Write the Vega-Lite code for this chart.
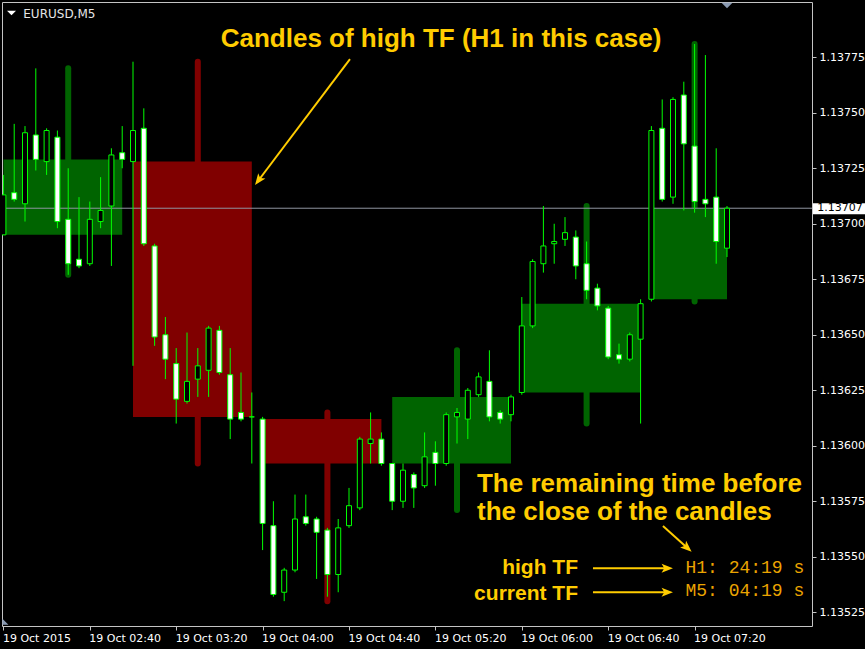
{
  "$schema": "https://vega.github.io/schema/vega-lite/v6.json",
  "width": 810,
  "height": 624,
  "autosize": {"type": "none"},
  "padding": {"left": 2, "top": 2, "right": 53, "bottom": 23},
  "background": "#000000",
  "config": {
    "view": {"stroke": "#c4c4c4", "strokeWidth": 1, "fill": "#000000"},
    "scale": {"continuousPadding": 0},
    "axis": {"grid": false, "domain": false, "tickColor": "#c4c4c4", "tickSize": 4, "labelColor": "#ffffff", "labelFont": "DejaVu Sans", "labelFontSize": 11, "labelOverlap": false, "labelFlush": false, "labelBound": false}
  },
  "datasets": {
    "m5": [
      {"bar": 0, "time": "02:00", "open": 1.13695, "high": 1.13722, "low": 1.13695, "close": 1.13713},
      {"bar": 1, "time": "02:05", "open": 1.13714, "high": 1.13745, "low": 1.13710, "close": 1.13711},
      {"bar": 2, "time": "02:10", "open": 1.13709, "high": 1.13744, "low": 1.13701, "close": 1.13741},
      {"bar": 3, "time": "02:15", "open": 1.13740, "high": 1.13770, "low": 1.13724, "close": 1.13729},
      {"bar": 4, "time": "02:20", "open": 1.13728, "high": 1.13743, "low": 1.13722, "close": 1.13742},
      {"bar": 5, "time": "02:25", "open": 1.13739, "high": 1.13742, "low": 1.13698, "close": 1.13701},
      {"bar": 6, "time": "02:30", "open": 1.13702, "high": 1.13725, "low": 1.13677, "close": 1.13682},
      {"bar": 7, "time": "02:35", "open": 1.13684, "high": 1.13712, "low": 1.13680, "close": 1.13681},
      {"bar": 8, "time": "02:40", "open": 1.13682, "high": 1.13710, "low": 1.13681, "close": 1.13702},
      {"bar": 9, "time": "02:45", "open": 1.13701, "high": 1.13721, "low": 1.13698, "close": 1.13706},
      {"bar": 10, "time": "02:50", "open": 1.13708, "high": 1.13734, "low": 1.13681, "close": 1.13731},
      {"bar": 11, "time": "02:55", "open": 1.13732, "high": 1.13744, "low": 1.13725, "close": 1.13729},
      {"bar": 12, "time": "03:00", "open": 1.13728, "high": 1.13773, "low": 1.13636, "close": 1.13742},
      {"bar": 13, "time": "03:05", "open": 1.13743, "high": 1.13752, "low": 1.13690, "close": 1.13691},
      {"bar": 14, "time": "03:10", "open": 1.13690, "high": 1.13691, "low": 1.13645, "close": 1.13649},
      {"bar": 15, "time": "03:15", "open": 1.13650, "high": 1.13658, "low": 1.13630, "close": 1.13639},
      {"bar": 16, "time": "03:20", "open": 1.13637, "high": 1.13644, "low": 1.13610, "close": 1.13621},
      {"bar": 17, "time": "03:25", "open": 1.13620, "high": 1.13651, "low": 1.13619, "close": 1.13629},
      {"bar": 18, "time": "03:30", "open": 1.13630, "high": 1.13644, "low": 1.13622, "close": 1.13636},
      {"bar": 19, "time": "03:35", "open": 1.13634, "high": 1.13654, "low": 1.13622, "close": 1.13653},
      {"bar": 20, "time": "03:40", "open": 1.13652, "high": 1.13654, "low": 1.13632, "close": 1.13633},
      {"bar": 21, "time": "03:45", "open": 1.13632, "high": 1.13644, "low": 1.13603, "close": 1.13612},
      {"bar": 22, "time": "03:50", "open": 1.13615, "high": 1.13633, "low": 1.13611, "close": 1.13612},
      {"bar": 23, "time": "03:55", "open": 1.13613, "high": 1.13624, "low": 1.13592, "close": 1.13613},
      {"bar": 24, "time": "04:00", "open": 1.13612, "high": 1.13613, "low": 1.13553, "close": 1.13565},
      {"bar": 25, "time": "04:05", "open": 1.13564, "high": 1.13575, "low": 1.13532, "close": 1.13533},
      {"bar": 26, "time": "04:10", "open": 1.13534, "high": 1.13545, "low": 1.13530, "close": 1.13544},
      {"bar": 27, "time": "04:15", "open": 1.13544, "high": 1.13578, "low": 1.13543, "close": 1.13567},
      {"bar": 28, "time": "04:20", "open": 1.13568, "high": 1.13578, "low": 1.13564, "close": 1.13565},
      {"bar": 29, "time": "04:25", "open": 1.13567, "high": 1.13568, "low": 1.13540, "close": 1.13561},
      {"bar": 30, "time": "04:30", "open": 1.13562, "high": 1.13563, "low": 1.13532, "close": 1.13542},
      {"bar": 31, "time": "04:35", "open": 1.13542, "high": 1.13567, "low": 1.13534, "close": 1.13563},
      {"bar": 32, "time": "04:40", "open": 1.13564, "high": 1.13581, "low": 1.13563, "close": 1.13573},
      {"bar": 33, "time": "04:45", "open": 1.13572, "high": 1.13604, "low": 1.13571, "close": 1.13603},
      {"bar": 34, "time": "04:50", "open": 1.13601, "high": 1.13615, "low": 1.13592, "close": 1.13603},
      {"bar": 35, "time": "04:55", "open": 1.13603, "high": 1.13606, "low": 1.13591, "close": 1.13592},
      {"bar": 36, "time": "05:00", "open": 1.13592, "high": 1.13592, "low": 1.13571, "close": 1.13575},
      {"bar": 37, "time": "05:05", "open": 1.13575, "high": 1.13592, "low": 1.13572, "close": 1.13589},
      {"bar": 38, "time": "05:10", "open": 1.13587, "high": 1.13588, "low": 1.13572, "close": 1.13581},
      {"bar": 39, "time": "05:15", "open": 1.13582, "high": 1.13606, "low": 1.13581, "close": 1.13595},
      {"bar": 40, "time": "05:20", "open": 1.13597, "high": 1.13602, "low": 1.13582, "close": 1.13592},
      {"bar": 41, "time": "05:25", "open": 1.13592, "high": 1.13615, "low": 1.13591, "close": 1.13614},
      {"bar": 42, "time": "05:30", "open": 1.13613, "high": 1.13617, "low": 1.13601, "close": 1.13615},
      {"bar": 43, "time": "05:35", "open": 1.13612, "high": 1.13626, "low": 1.13603, "close": 1.13625},
      {"bar": 44, "time": "05:40", "open": 1.13623, "high": 1.13633, "low": 1.13622, "close": 1.13631},
      {"bar": 45, "time": "05:45", "open": 1.13629, "high": 1.13643, "low": 1.13611, "close": 1.13613},
      {"bar": 46, "time": "05:50", "open": 1.13615, "high": 1.13616, "low": 1.13610, "close": 1.13612},
      {"bar": 47, "time": "05:55", "open": 1.13614, "high": 1.13623, "low": 1.13611, "close": 1.13622},
      {"bar": 48, "time": "06:00", "open": 1.13624, "high": 1.13667, "low": 1.13623, "close": 1.13654},
      {"bar": 49, "time": "06:05", "open": 1.13654, "high": 1.13684, "low": 1.13653, "close": 1.13683},
      {"bar": 50, "time": "06:10", "open": 1.13682, "high": 1.13708, "low": 1.13678, "close": 1.13690},
      {"bar": 51, "time": "06:15", "open": 1.13691, "high": 1.13700, "low": 1.13682, "close": 1.13692},
      {"bar": 52, "time": "06:20", "open": 1.13693, "high": 1.13703, "low": 1.13690, "close": 1.13696},
      {"bar": 53, "time": "06:25", "open": 1.13694, "high": 1.13697, "low": 1.13675, "close": 1.13681},
      {"bar": 54, "time": "06:30", "open": 1.13682, "high": 1.13692, "low": 1.13666, "close": 1.13670},
      {"bar": 55, "time": "06:35", "open": 1.13671, "high": 1.13673, "low": 1.13661, "close": 1.13663},
      {"bar": 56, "time": "06:40", "open": 1.13662, "high": 1.13663, "low": 1.13639, "close": 1.13640},
      {"bar": 57, "time": "06:45", "open": 1.13641, "high": 1.13646, "low": 1.13637, "close": 1.13639},
      {"bar": 58, "time": "06:50", "open": 1.13639, "high": 1.13651, "low": 1.13638, "close": 1.13650},
      {"bar": 59, "time": "06:55", "open": 1.13648, "high": 1.13666, "low": 1.13610, "close": 1.13664},
      {"bar": 60, "time": "07:00", "open": 1.13666, "high": 1.13744, "low": 1.13665, "close": 1.13742},
      {"bar": 61, "time": "07:05", "open": 1.13743, "high": 1.13756, "low": 1.13710, "close": 1.13711},
      {"bar": 62, "time": "07:10", "open": 1.13712, "high": 1.13757, "low": 1.13709, "close": 1.13756},
      {"bar": 63, "time": "07:15", "open": 1.13758, "high": 1.13764, "low": 1.13706, "close": 1.13736},
      {"bar": 64, "time": "07:20", "open": 1.13735, "high": 1.13781, "low": 1.13705, "close": 1.13710},
      {"bar": 65, "time": "07:25", "open": 1.13711, "high": 1.13776, "low": 1.13703, "close": 1.13709},
      {"bar": 66, "time": "07:30", "open": 1.13712, "high": 1.13734, "low": 1.13682, "close": 1.13692},
      {"bar": 67, "time": "07:35", "open": 1.13689, "high": 1.13708, "low": 1.13685, "close": 1.13707}
    ],
    "h1": [
      {"hour": "02:00", "first": 0, "last": 11, "mid": 6, "open": 1.13695, "high": 1.13770, "low": 1.13677, "close": 1.13729},
      {"hour": "03:00", "first": 12, "last": 23, "mid": 18, "open": 1.13728, "high": 1.13773, "low": 1.13592, "close": 1.13613},
      {"hour": "04:00", "first": 24, "last": 35, "mid": 30, "open": 1.13612, "high": 1.13615, "low": 1.13530, "close": 1.13592},
      {"hour": "05:00", "first": 36, "last": 47, "mid": 42, "open": 1.13592, "high": 1.13643, "low": 1.13571, "close": 1.13622},
      {"hour": "06:00", "first": 48, "last": 59, "mid": 54, "open": 1.13624, "high": 1.13708, "low": 1.13610, "close": 1.13664},
      {"hour": "07:00", "first": 60, "last": 67, "mid": 64, "open": 1.13666, "high": 1.13781, "low": 1.13665, "close": 1.13707}
    ],
    "quote": [
      {"symbol": "EURUSD,M5", "bid": 1.13707, "label": "1.13707"}
    ],
    "headline": [
      {"text": "Candles of high TF (H1 in this case)", "bar": 40.52, "price": 1.137796}
    ],
    "callout": [
      {"text": "The remaining time before", "bar": 43.85, "price": 1.135793},
      {"text": "the close of the candles", "bar": 43.85, "price": 1.135665}
    ],
    "legend": [
      {"text": "high TF", "bar": 53.2, "price": 1.135422},
      {"text": "current TF", "bar": 53.2, "price": 1.135305}
    ],
    "timers": [
      {"text": "H1: 24:19 s", "bar": 63.15, "price": 1.135425},
      {"text": "M5: 04:19 s", "bar": 63.15, "price": 1.135323}
    ],
    "arrows": [
      {"name": "to H1 candles", "bar": 32.09, "price": 1.137742, "bar2": 23.63, "price2": 1.137196, "heading": 216.6},
      {"name": "to timers", "bar": 61.07, "price": 1.135638, "bar2": 63.31, "price2": 1.135541, "heading": 131.8},
      {"name": "high TF", "bar": 54.59, "price": 1.135448, "bar2": 61.44, "price2": 1.135448, "heading": 90},
      {"name": "current TF", "bar": 54.59, "price": 1.13534, "bar2": 61.44, "price2": 1.13534, "heading": 90}
    ],
    "chartTitle": [
      {"text": "EURUSD,M5", "bar": 1.84, "price": 1.137927}
    ],
    "menuMark": [
      {"bar": 0.75, "price": 1.137949}
    ],
    "shiftMark": [
      {"bar": 67, "price": 1.137983}
    ],
    "cornerMark": [
      {"bar": 0.19, "price": 1.135207}
    ]
  },
  "layer": [
    {
      "data": {"name": "h1"},
      "mark": {"type": "rule", "strokeWidth": 6, "strokeCap": "round", "clip": true},
      "encoding": {
        "x": {"field": "mid", "type": "quantitative", "title": null,
          "scale": {"domain": [-0.13, 74.87], "nice": false, "zero": false, "padding": 0},
          "axis": {"values": [0, 8, 16, 24, 32, 40, 48, 56, 64],
            "labelExpr": "['19 Oct 2015','19 Oct 02:40','19 Oct 03:20','19 Oct 04:00','19 Oct 04:40','19 Oct 05:20','19 Oct 06:00','19 Oct 06:40','19 Oct 07:20'][round(datum.value / 8)]",
            "labelAlign": "left", "labelOffset": -1, "labelPadding": 2}},
        "y": {"field": "low", "type": "quantitative", "title": null,
          "scale": {"domain": [1.135188, 1.137999], "nice": false, "zero": false, "padding": 0},
          "axis": {"orient": "right", "values": [1.13525, 1.1355, 1.13575, 1.136, 1.13625, 1.1365, 1.13675, 1.137, 1.13725, 1.1375, 1.13775], "format": ".5f", "labelPadding": 3}},
        "y2": {"field": "high"},
        "color": {"condition": {"test": "datum.close > datum.open", "value": "#006400"}, "value": "#800000"}
      }
    },
    {
      "data": {"name": "h1"},
      "mark": {"type": "rect", "clip": true},
      "encoding": {
        "x": {"field": "first", "type": "quantitative", "title": null},
        "x2": {"field": "last"},
        "y": {"field": "open", "type": "quantitative", "title": null},
        "y2": {"field": "close"},
        "color": {"condition": {"test": "datum.close > datum.open", "value": "#006400"}, "value": "#800000"}
      }
    },
    {
      "data": {"name": "quote"},
      "mark": {"type": "rule", "color": "#8f95a0", "strokeWidth": 1},
      "encoding": {
        "y": {"field": "bid", "type": "quantitative", "title": null}
      }
    },
    {
      "data": {"name": "m5"},
      "mark": {"type": "rule", "color": "#00ff00", "strokeWidth": 1, "clip": true},
      "encoding": {
        "x": {"field": "bar", "type": "quantitative", "title": null},
        "y": {"field": "low", "type": "quantitative", "title": null},
        "y2": {"field": "high"}
      }
    },
    {
      "data": {"name": "m5"},
      "mark": {"type": "bar", "size": 5, "stroke": "#00ff00", "strokeWidth": 1, "clip": true},
      "encoding": {
        "x": {"field": "bar", "type": "quantitative", "title": null},
        "y": {"field": "open", "type": "quantitative", "title": null},
        "y2": {"field": "close"},
        "fill": {"condition": {"test": "datum.close > datum.open", "value": "#000000"}, "value": "#ffffff"}
      }
    },
    {
      "data": {"name": "quote"},
      "mark": {"type": "rect", "color": "#ffffff"},
      "encoding": {
        "x": {"datum": 74.96, "type": "quantitative"},
        "x2": {"datum": 79.78},
        "y": {"datum": 1.137092, "type": "quantitative"},
        "y2": {"datum": 1.137043}
      }
    },
    {
      "data": {"name": "quote"},
      "mark": {"type": "text", "color": "#000000", "font": "DejaVu Sans", "fontSize": 11, "align": "left", "baseline": "middle"},
      "encoding": {
        "x": {"datum": 75.36, "type": "quantitative"},
        "y": {"field": "bid", "type": "quantitative", "title": null},
        "text": {"field": "label"}
      }
    },
    {
      "data": {"name": "chartTitle"},
      "mark": {"type": "text", "color": "#e6e6e6", "font": "DejaVu Sans", "fontSize": 12, "align": "left", "baseline": "alphabetic"},
      "encoding": {
        "x": {"field": "bar", "type": "quantitative", "title": null},
        "y": {"field": "price", "type": "quantitative", "title": null},
        "text": {"field": "text"}
      }
    },
    {
      "data": {"name": "menuMark"},
      "mark": {"type": "point", "shape": "M-1,-0.5L1,-0.5L0,0.5Z", "filled": true, "color": "#ffffff", "opacity": 1, "size": 80},
      "encoding": {
        "x": {"field": "bar", "type": "quantitative", "title": null},
        "y": {"field": "price", "type": "quantitative", "title": null}
      }
    },
    {
      "data": {"name": "shiftMark"},
      "mark": {"type": "point", "shape": "M-1,-0.5L1,-0.5L0,0.5Z", "filled": true, "color": "#8a9ab2", "opacity": 1, "size": 120},
      "encoding": {
        "x": {"field": "bar", "type": "quantitative", "title": null},
        "y": {"field": "price", "type": "quantitative", "title": null}
      }
    },
    {
      "data": {"name": "cornerMark"},
      "mark": {"type": "point", "shape": "M-1,-1L-1,1L1,1Z", "filled": true, "color": "#8a9ab2", "opacity": 1, "size": 36},
      "encoding": {
        "x": {"field": "bar", "type": "quantitative", "title": null},
        "y": {"field": "price", "type": "quantitative", "title": null}
      }
    },
    {
      "data": {"name": "arrows"},
      "mark": {"type": "rule", "color": "#ffcc00", "strokeWidth": 2},
      "encoding": {
        "x": {"field": "bar", "type": "quantitative", "title": null},
        "y": {"field": "price", "type": "quantitative", "title": null},
        "x2": {"field": "bar2"},
        "y2": {"field": "price2"}
      }
    },
    {
      "data": {"name": "arrows"},
      "mark": {"type": "point", "shape": "M0,-1L0.75,0.9L0,0.45L-0.75,0.9Z", "filled": true, "color": "#ffcc00", "opacity": 1, "size": 144},
      "encoding": {
        "x": {"field": "bar2", "type": "quantitative", "title": null},
        "y": {"field": "price2", "type": "quantitative", "title": null},
        "angle": {"field": "heading", "type": "quantitative", "scale": null}
      }
    },
    {
      "data": {"name": "headline"},
      "mark": {"type": "text", "color": "#ffcc00", "font": "Liberation Sans", "fontWeight": "bold", "fontSize": 26, "align": "center", "baseline": "alphabetic"},
      "encoding": {
        "x": {"field": "bar", "type": "quantitative", "title": null},
        "y": {"field": "price", "type": "quantitative", "title": null},
        "text": {"field": "text"}
      }
    },
    {
      "data": {"name": "callout"},
      "mark": {"type": "text", "color": "#ffcc00", "font": "Liberation Sans", "fontWeight": "bold", "fontSize": 26, "align": "left", "baseline": "alphabetic"},
      "encoding": {
        "x": {"field": "bar", "type": "quantitative", "title": null},
        "y": {"field": "price", "type": "quantitative", "title": null},
        "text": {"field": "text"}
      }
    },
    {
      "data": {"name": "legend"},
      "mark": {"type": "text", "color": "#ffcc00", "font": "Liberation Sans", "fontWeight": "bold", "fontSize": 21, "align": "right", "baseline": "alphabetic"},
      "encoding": {
        "x": {"field": "bar", "type": "quantitative", "title": null},
        "y": {"field": "price", "type": "quantitative", "title": null},
        "text": {"field": "text"}
      }
    },
    {
      "data": {"name": "timers"},
      "mark": {"type": "text", "color": "#eba400", "font": "Liberation Mono", "fontSize": 18, "align": "left", "baseline": "alphabetic"},
      "encoding": {
        "x": {"field": "bar", "type": "quantitative", "title": null},
        "y": {"field": "price", "type": "quantitative", "title": null},
        "text": {"field": "text"}
      }
    }
  ]
}
